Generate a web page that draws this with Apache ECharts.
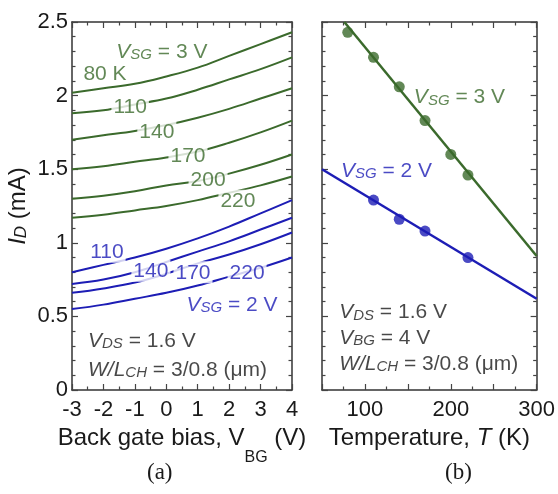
<!DOCTYPE html>
<html><head><meta charset="utf-8">
<script src="https://cdn.jsdelivr.net/npm/echarts@6/dist/echarts.min.js"></script>
<style>html,body{margin:0;padding:0;background:#fff}#c{width:558px;height:494px}</style>
</head><body><div id="c"></div>
<script>
// ---- data (a): I_D vs back gate bias ----
const vbg  = [-3, -2, -1, 0, 1, 2, 3, 4];
const g80  = [2.02, 2.05, 2.08, 2.13, 2.19, 2.27, 2.35, 2.43];
const g110 = [1.88, 1.90, 1.94, 1.98, 2.04, 2.11, 2.18, 2.26];
const g140 = [1.70, 1.73, 1.76, 1.80, 1.85, 1.91, 1.98, 2.05];
const g170 = [1.50, 1.52, 1.55, 1.58, 1.62, 1.68, 1.75, 1.83];
const g200 = [1.30, 1.32, 1.35, 1.39, 1.42, 1.47, 1.53, 1.60];
const g220 = [1.17, 1.19, 1.22, 1.25, 1.29, 1.34, 1.39, 1.45];
const b110 = [0.80, 0.85, 0.90, 0.96, 1.03, 1.11, 1.20, 1.29];
const b140 = [0.72, 0.75, 0.80, 0.87, 0.94, 1.01, 1.09, 1.17];
const b170 = [0.66, 0.69, 0.73, 0.79, 0.86, 0.92, 0.99, 1.07];
const b220 = [0.55, 0.58, 0.62, 0.66, 0.71, 0.77, 0.83, 0.90];
// ---- data (b): I_D vs temperature ----
const tempG = [80, 110, 140, 170, 200, 220];
const idG   = [2.43, 2.26, 2.06, 1.83, 1.60, 1.46];
const tempB = [110, 140, 170, 220];
const idB   = [1.29, 1.16, 1.08, 0.90];
const fitGT = [76, 300];  const fitGI = [2.50, 0.91];
const fitBT = [50, 300];  const fitBI = [1.50, 0.62];
// ---- curve labels (text) ----
const greenCurveLabels = ['80 K', '110', '140', '170', '200', '220'];
const blueCurveLabels  = ['110', '140', '170', '220'];

const GREEN = '#3b6a2c', BLUE = '#1d1db5', DARK = '#1a1a1a';
const FF = '"Liberation Sans", Arial, sans-serif';
const FS = 21;

const zip = (xs, ys) => xs.map((x, i) => [x, ys[i]]);

// annotation placement (data coordinates)
const leftNotes = [
  {p: [-0.14, 2.30], t: '{i|V}{s|SG}{n| = 3 V}', c: GREEN, bg: false},
  {p: [-1.95, 2.15], t: greenCurveLabels[0], c: GREEN, bg: false},
  {p: [-1.15, 1.925], t: greenCurveLabels[1], c: GREEN, bg: true},
  {p: [-0.30, 1.755], t: greenCurveLabels[2], c: GREEN, bg: true},
  {p: [0.69, 1.595], t: greenCurveLabels[3], c: GREEN, bg: true},
  {p: [1.33, 1.43], t: greenCurveLabels[4], c: GREEN, bg: true},
  {p: [2.28, 1.285], t: greenCurveLabels[5], c: GREEN, bg: true},
  {p: [-1.89, 0.94], t: blueCurveLabels[0], c: BLUE, bg: true},
  {p: [-0.49, 0.81], t: blueCurveLabels[1], c: BLUE, bg: true},
  {p: [0.85, 0.80], t: blueCurveLabels[2], c: BLUE, bg: true},
  {p: [2.57, 0.80], t: blueCurveLabels[3], c: BLUE, bg: true},
  {p: [2.09, 0.58], t: '{i|V}{s|SG}{n| = 2 V}', c: BLUE, bg: false}
];
const leftNotesL = [
  {p: [-2.49, 0.335], t: '{i|V}{s|DS}{n| = 1.6 V}', c: DARK},
  {p: [-2.49, 0.14], t: '{i|W/L}{s|CH}{n| = 3/0.8 (μm)}', c: DARK}
];
const rightNotesL = [
  {p: [157, 1.99], t: '{i|V}{s|SG}{n| = 3 V}', c: GREEN},
  {p: [72, 1.49], t: '{i|V}{s|SG}{n| = 2 V}', c: BLUE},
  {p: [70, 0.53], t: '{i|V}{s|DS}{n| = 1.6 V}', c: DARK},
  {p: [70, 0.355], t: '{i|V}{s|BG}{n| = 4 V}', c: DARK},
  {p: [70, 0.18], t: '{i|W/L}{s|CH}{n| = 3/0.8 (μm)}', c: DARK}
];

function rich(c) {
  return {
    i: {fontFamily: FF, fontSize: FS, fontStyle: 'italic', color: c, lineHeight: 22, verticalAlign: 'bottom'},
    s: {fontFamily: FF, fontSize: 15, fontStyle: 'italic', color: c, lineHeight: 22, verticalAlign: 'bottom'},
    n: {fontFamily: FF, fontSize: FS, color: c, lineHeight: 22, verticalAlign: 'bottom'}
  };
}
function noteSeries(notes, xi, yi, align) {
  return {
    type: 'scatter', xAxisIndex: xi, yAxisIndex: yi, symbolSize: 0, silent: true, z: 10,
    data: notes.map(n => ({
      value: n.p,
      label: {
        show: true, position: align === 'left' ? 'right' : 'inside', distance: 0,
        formatter: n.t.indexOf('{') === 0 ? n.t : '{n|' + n.t + '}',
        rich: rich(n.c),
        backgroundColor: n.bg ? '#fff' : 'transparent',
        padding: n.bg ? [0, 2, 0, 2] : 0
      }
    }))
  };
}

const tickStyle = {color: '#444', width: 1.2};
const lineStyleAxis = {color: '#333', width: 1.5};
function xAx(grid, pos, min, max, interval, showLabel, minorSplit, fmt) {
  return {
    type: 'value', gridIndex: grid, position: pos, min, max, interval,
    axisLine: {show: true, onZero: false, lineStyle: lineStyleAxis},
    axisTick: {show: true, inside: true, length: 6, lineStyle: tickStyle},
    minorTick: {show: true, splitNumber: minorSplit, length: 3.5, lineStyle: tickStyle},
    splitLine: {show: false},
    axisLabel: {show: showLabel, fontFamily: FF, fontSize: 22, color: DARK, margin: 9,
      formatter: fmt || (v => String(v))}
  };
}
function yAx(grid, pos, showLabel) {
  return {
    type: 'value', gridIndex: grid, position: pos, min: 0, max: 2.5, interval: 0.5,
    axisLine: {show: true, onZero: false, lineStyle: lineStyleAxis},
    axisTick: {show: true, inside: true, length: 6, lineStyle: tickStyle},
    minorTick: {show: true, splitNumber: 5, length: 3.5, lineStyle: tickStyle},
    splitLine: {show: false},
    axisLabel: {show: showLabel, fontFamily: FF, fontSize: 22, color: DARK, margin: 4}
  };
}

const xAxes = [
  Object.assign(xAx(0, 'bottom', -3, 4, 1, true, 2), {
    name: '{n|Back gate bias, V}{s|BG}{n| (V)}', nameLocation: 'middle', nameGap: 33,
    nameTextStyle: {rich: {
      n: {fontFamily: FF, fontSize: 24, color: DARK, lineHeight: 26, verticalAlign: 'top'},
      s: {fontFamily: FF, fontSize: 16, color: DARK, lineHeight: 40, verticalAlign: 'bottom'}
    }}
  }),
  xAx(0, 'top', -3, 4, 1, false, 2),
  Object.assign(xAx(1, 'bottom', 50, 300, 50, true, 2, v => (v % 100 === 0 ? String(v) : '')), {
    name: '{n|Temperature, }{i|T}{n| (K)}', nameLocation: 'middle', nameGap: 33,
    nameTextStyle: {rich: {
      n: {fontFamily: FF, fontSize: 24, color: DARK, lineHeight: 26, verticalAlign: 'top'},
      i: {fontFamily: FF, fontSize: 24, fontStyle: 'italic', color: DARK, lineHeight: 26, verticalAlign: 'top'}
    }}
  }),
  xAx(1, 'top', 50, 300, 50, false, 2)
];
const yAxes = [
  Object.assign(yAx(0, 'left', true), {
    name: '{i|I}{s|D}{n| (mA)}', nameLocation: 'middle', nameRotate: 90, nameGap: 42,
    nameTextStyle: {rich: {
      i: {fontFamily: FF, fontSize: 24, fontStyle: 'italic', color: DARK, lineHeight: 26, verticalAlign: 'bottom'},
      s: {fontFamily: FF, fontSize: 17, fontStyle: 'italic', color: DARK, lineHeight: 26, verticalAlign: 'bottom'},
      n: {fontFamily: FF, fontSize: 24, color: DARK, lineHeight: 26, verticalAlign: 'bottom'}
    }}
  }),
  yAx(0, 'right', false),
  yAx(1, 'left', false),
  yAx(1, 'right', false)
];

function curve(ys, color) {
  return {type: 'line', xAxisIndex: 0, yAxisIndex: 0, data: zip(vbg, ys), smooth: 0.4,
    symbol: 'none', lineStyle: {color, width: 2}, z: 3, silent: true};
}

const series = [
  curve(g80, GREEN), curve(g110, GREEN), curve(g140, GREEN),
  curve(g170, GREEN), curve(g200, GREEN), curve(g220, GREEN),
  curve(b110, BLUE), curve(b140, BLUE), curve(b170, BLUE), curve(b220, BLUE),
  {type: 'line', xAxisIndex: 2, yAxisIndex: 2, data: zip(fitGT, fitGI), symbol: 'none',
   lineStyle: {color: GREEN, width: 2.5}, z: 3, silent: true},
  {type: 'line', xAxisIndex: 2, yAxisIndex: 2, data: zip(fitBT, fitBI), symbol: 'none',
   lineStyle: {color: BLUE, width: 2.5}, z: 3, silent: true},
  {type: 'scatter', xAxisIndex: 2, yAxisIndex: 2, data: zip(tempG, idG), symbol: 'circle',
   symbolSize: 11, itemStyle: {color: GREEN}, z: 4, silent: true},
  {type: 'scatter', xAxisIndex: 2, yAxisIndex: 2, data: zip(tempB, idB), symbol: 'circle',
   symbolSize: 11, itemStyle: {color: BLUE}, z: 4, silent: true},
  noteSeries(leftNotes, 0, 0, 'center'),
  noteSeries(leftNotesL, 0, 0, 'left'),
  noteSeries(rightNotesL, 2, 2, 'left')
];

const chart = echarts.init(document.getElementById('c'), null, {renderer: 'canvas'});
chart.setOption({
  animation: false,
  backgroundColor: '#fff',
  grid: [
    {left: 72, right: 266, top: 22, bottom: 104, containLabel: false},
    {left: 322, right: 14, top: 22, bottom: 104, containLabel: false}
  ],
  xAxis: xAxes,
  yAxis: yAxes,
  series,
  graphic: [
    {type: 'text', left: 147, top: 461, style: {text: '(a)', font: '23px "Liberation Serif", "Times New Roman", serif', fill: DARK}},
    {type: 'text', left: 445, top: 461, style: {text: '(b)', font: '23px "Liberation Serif", "Times New Roman", serif', fill: DARK}}
  ]
});
</script>
</body></html>
